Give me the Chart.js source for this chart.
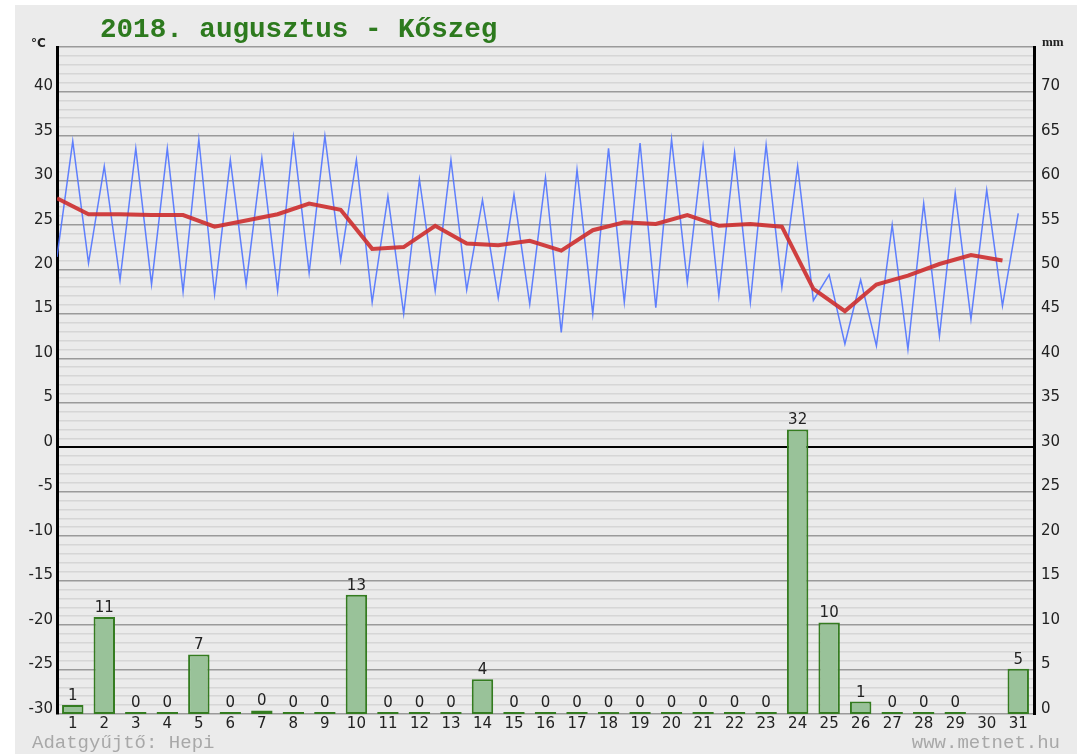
<!DOCTYPE html>
<html><head><meta charset="utf-8">
<script src="https://cdn.jsdelivr.net/npm/chart.js@4.4.0/dist/chart.umd.min.js"></script>
<style>html,body{margin:0;padding:0;background:#fff;overflow:hidden}#wrap{width:1082px;height:754px;position:relative}</style>
</head><body><div id="wrap"><canvas id="c" width="1082" height="754"></canvas></div>
<script>
const days = [1,2,3,4,5,6,7,8,9,10,11,12,13,14,15,16,17,18,19,20,21,22,23,24,25,26,27,28,29,30,31];
const tMin = [21.4,20.7,18.8,18.3,17.5,17.2,18.3,17.6,19.6,21.0,16.3,15.0,17.6,17.7,16.8,16.1,12.9,15.0,16.3,15.7,18.5,17.0,16.3,18.0,16.5,11.6,11.4,11.0,12.5,14.4,15.9];
const tMax = [34.4,31.6,33.6,33.6,34.6,32.3,32.5,34.8,35.0,32.3,28.2,30.1,32.3,27.8,28.4,30.3,31.2,33.6,34.2,34.6,33.8,33.1,34.0,31.6,19.4,18.8,25.0,27.4,28.6,28.9,26.3];
const tAvg = [28.0,26.2,26.2,26.1,26.1,24.8,25.5,26.2,27.4,26.7,22.3,22.5,24.9,22.9,22.7,23.2,22.1,24.4,25.3,25.1,26.1,24.9,25.1,24.8,17.8,15.3,18.3,19.3,20.6,21.6,21.0];
const precip = [1.0,10.9,0,0,6.7,0,0.4,0,0,13.4,0,0,0,3.9,0,0,0,0,0,0,0,0,0,32.0,10.3,1.4,0,0,0,null,5.1];
const titleText = '2018. augusztus - Kőszeg';
const leftUnit = '°C';
const rightUnit = 'mm';
const footerLeft = 'Adatgyűjtő: Hepi';
const footerRight = 'www.metnet.hu';

const tempLine = [];
days.forEach((d, i) => { tempLine.push({x: i, y: tMin[i]}); tempLine.push({x: i + 0.5, y: tMax[i]}); });
const avgLine = days.map((d, i) => ({x: i, y: tAvg[i]}));

const decor = {
  id: 'decor',
  beforeDraw(chart) {
    const ctx = chart.ctx;
    ctx.save();
    ctx.fillStyle = '#ffffff'; ctx.fillRect(0, 0, chart.width, chart.height);
    ctx.fillStyle = '#ebebeb'; ctx.fillRect(15, 5, 1062, 749);
    ctx.restore();
  },
  afterDraw(chart) {
    const ctx = chart.ctx;
    ctx.save();
    ctx.textBaseline = 'alphabetic';
    ctx.textAlign = 'left';
    ctx.fillStyle = '#2d7a1e';
    ctx.font = 'bold 27.6px "Liberation Mono"';
    ctx.fillText(titleText, 100, 37);
    ctx.fillStyle = '#222';
    ctx.font = 'bold 12px "DejaVu Sans"';
    ctx.fillText(leftUnit, 31, 47);
    ctx.font = 'bold 13px "Liberation Serif"';
    ctx.fillText(rightUnit, 1042, 46);
    ctx.fillStyle = '#a8a8a8';
    ctx.font = '19px "Liberation Mono"';
    ctx.fillText(footerLeft, 32, 748);
    ctx.textAlign = 'right';
    ctx.fillText(footerRight, 1060, 748);
    ctx.restore();
  }
};

const barLabels = {
  id: 'barLabels',
  afterDatasetsDraw(chart) {
    const ctx = chart.ctx;
    const meta = chart.getDatasetMeta(0);
    ctx.save();
    ctx.fillStyle = '#222';
    ctx.font = '15px "DejaVu Sans"';
    ctx.textAlign = 'center';
    ctx.textBaseline = 'alphabetic';
    meta.data.forEach((el, i) => {
      const v = precip[i];
      if (v === null || v === undefined) return;
      ctx.fillText(String(Math.round(v)), el.x, el.y - 5);
    });
    ctx.restore();
  }
};

const tickFont = {family: 'DejaVu Sans', size: 15, lineHeight: 0.7};

new Chart(document.getElementById('c'), {
  data: {
    labels: days.map(String),
    datasets: [
      {type: 'bar', data: precip, xAxisID: 'x', yAxisID: 'y2', backgroundColor: '#99c299', borderColor: '#347c20', borderWidth: 2, borderSkipped: false, grouped: false, barPercentage: 0.68, categoryPercentage: 1, minBarLength: 2, order: 3},
      {type: 'line', data: tempLine, xAxisID: 'xl', yAxisID: 'y', borderColor: 'rgba(80,115,255,0.9)', borderWidth: 1.5, pointRadius: 0, tension: 0, order: 2},
      {type: 'line', data: avgLine, xAxisID: 'xl', yAxisID: 'y', borderColor: 'rgba(205,45,45,0.9)', borderWidth: 4, pointRadius: 0, tension: 0, order: 1}
    ]
  },
  options: {
    responsive: false, animation: false,
    layout: {padding: {top: 47, left: 0, right: 0, bottom: 0}},
    plugins: {legend: {display: false}, tooltip: {enabled: false}},
    scales: {
      x: {type: 'category', offset: true, grid: {display: false, drawTicks: false}, border: {display: false},
          ticks: {color: '#222', font: {family: 'DejaVu Sans', size: 15}, padding: 1, maxRotation: 0, autoSkip: false},
          afterFit(s) { s.height = 40; }},
      xl: {type: 'linear', min: 0, max: 31, offset: false, display: false},
      y: {position: 'left', min: -30, max: 45,
          ticks: {stepSize: 1, autoSkip: false, color: '#222', font: tickFont, padding: 4,
                  callback: v => (v % 5 === 0 && v < 45) ? [String(v), ''] : ''},
          grid: {drawTicks: false, color: c => c.tick.value === 0 ? '#000' : (c.tick.value % 5 === 0 ? '#9a9a9a' : '#d6d6d6'),
                 lineWidth: c => c.tick.value === 0 ? 2 : 1.5},
          border: {color: '#000', width: 3},
          afterFit(s) { s.width = 57; }},
      y2: {position: 'right', min: 0, max: 75,
           ticks: {stepSize: 5, autoSkip: false, color: '#222', font: tickFont, padding: 7,
                   callback: v => v < 75 ? [String(v), ''] : ''},
           grid: {display: false, drawTicks: false},
           border: {color: '#000', width: 3},
           afterFit(s) { s.width = 48; }}
    }
  },
  plugins: [decor, barLabels]
});
</script>
</body></html>
